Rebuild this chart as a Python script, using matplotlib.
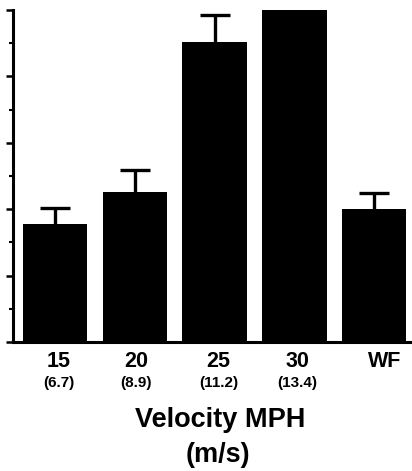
import matplotlib.pyplot as plt
from matplotlib.ticker import MultipleLocator

plt.rcParams['font.family'] = ['Liberation Sans', 'DejaVu Sans']
plt.rcParams['font.weight'] = 'bold'

speeds = ['15', '20', '25', '30', 'WF']
metric = ['(6.7)', '(8.9)', '(11.2)', '(13.4)', '']
means = [3.55, 4.52, 9.04, 10.0, 4.0]
errors = [0.49, 0.66, 0.81, 0.0, 0.49]

fig = plt.figure(figsize=(4.12, 4.71), dpi=100)
ax = fig.add_axes([0.032, 0.274, 0.963, 0.705])

x = range(len(speeds))
ax.bar(x, means, width=0.81, color='black', zorder=2)
eb = ax.errorbar(x, means, yerr=[[0] * len(errors), errors], fmt='none',
                 ecolor='black', elinewidth=2.4, capsize=11, capthick=2.4, zorder=1)
# only the upper whisker gets a cap
eb[1][0].set_visible(False)

ax.set_xlim(-0.525, 4.45)
ax.set_ylim(0, 10)
ax.yaxis.set_major_locator(MultipleLocator(2))
ax.yaxis.set_minor_locator(MultipleLocator(1))
ax.tick_params(axis='y', which='major', direction='out', length=5, width=1.8, labelleft=False)
ax.tick_params(axis='y', which='minor', direction='out', length=3, width=1.5)
ax.tick_params(axis='x', length=0, labelbottom=False)

for side in ['top', 'right']:
    ax.spines[side].set_visible(False)
for side in ['left', 'bottom']:
    ax.spines[side].set_linewidth(2.2)

# speed labels with the m/s value underneath
shift = [0.05, 0.02, 0.05, 0.04, 0.13]
for i, (s, m) in enumerate(zip(speeds, metric)):
    ax.text(i + shift[i], -0.060, s, transform=ax.get_xaxis_transform(),
            ha='center', va='center', fontsize=15.5, fontweight='heavy')
    ax.text(i + shift[i], -0.125, m, transform=ax.get_xaxis_transform(),
            ha='center', va='center', fontsize=11, fontweight='heavy')

fig.text(0.534, 1 - 420 / 471, 'Velocity MPH', ha='center', va='center',
         fontsize=19.5, fontweight='heavy')
fig.text(0.530, 1 - 455 / 471, '(m/s)', ha='center', va='center',
         fontsize=19.5, fontweight='heavy')

fig.savefig('out.png', dpi=100)
